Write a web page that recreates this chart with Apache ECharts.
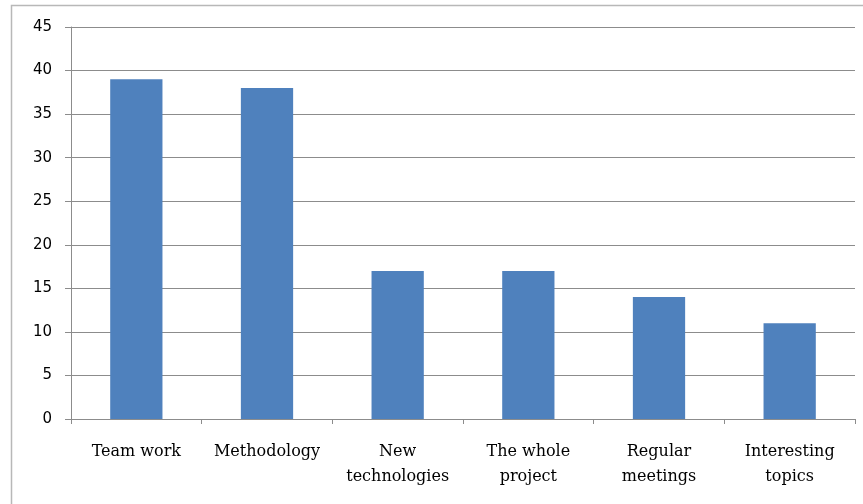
<!DOCTYPE html>
<html>
<head>
<meta charset="utf-8">
<script src="https://cdn.jsdelivr.net/npm/echarts@6/dist/echarts.min.js"></script>
<style>
html,body{margin:0;padding:0;background:#fff;}
#c{width:863px;height:504px;}
</style>
</head>
<body>
<div id="c"></div>
<script>
var categories = ["Team work", "Methodology", "New\ntechnologies", "The whole\nproject", "Regular\nmeetings", "Interesting\ntopics"];
var values = [39, 38, 17, 17, 14, 11];
var yTicks = [0, 5, 10, 15, 20, 25, 30, 35, 40, 45];

var chart = echarts.init(document.getElementById('c'));
chart.setOption({
  animation: false,
  backgroundColor: '#fff',
  graphic: [{
    type: 'rect',
    shape: {x: 11.5, y: 5.5, width: 900, height: 600},
    style: {fill: 'none', stroke: '#b8b8b8', lineWidth: 1.5},
    silent: true
  }],
  grid: {left: 71, right: 8, top: 27, bottom: 85},
  xAxis: {
    type: 'category',
    data: categories,
    axisLine: {lineStyle: {color: '#8c8c8c', width: 1}},
    axisTick: {show: true, length: 5, lineStyle: {color: '#8c8c8c'}},
    axisLabel: {
      interval: 0,
      margin: 20,
      fontFamily: 'DejaVu Serif',
      fontSize: 16,
      lineHeight: 25,
      color: '#000'
    }
  },
  yAxis: {
    type: 'value',
    min: yTicks[0],
    max: yTicks[yTicks.length - 1],
    interval: 5,
    axisLine: {show: true, lineStyle: {color: '#8c8c8c', width: 1}},
    axisTick: {show: true, length: 6, lineStyle: {color: '#8c8c8c'}},
    axisLabel: {
      margin: 19,
      fontFamily: 'DejaVu Sans',
      fontSize: 15,
      color: '#000'
    },
    splitLine: {lineStyle: {color: '#8c8c8c', width: 1}}
  },
  series: [{
    type: 'bar',
    data: values,
    barWidth: '40%',
    itemStyle: {color: '#4f81bd'}
  }]
});
</script>
</body>
</html>
